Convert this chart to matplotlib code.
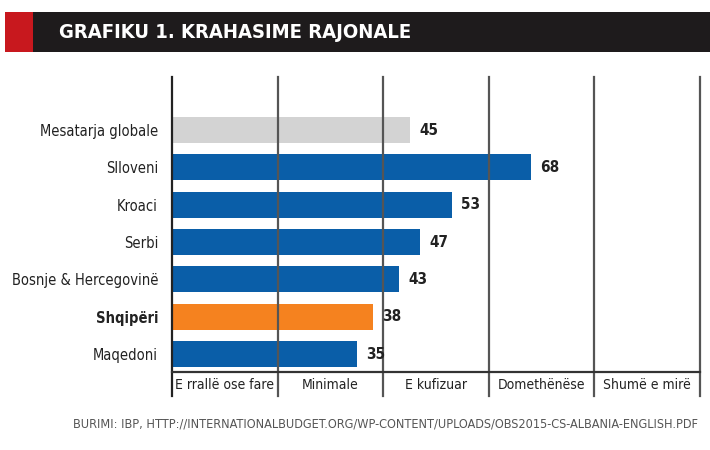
import matplotlib
matplotlib.use("Agg")
import matplotlib.pyplot as plt
from matplotlib.patches import Rectangle

categories = ["Mesatarja globale", "Slloveni", "Kroaci", "Serbi",
              "Bosnje & Hercegovinë", "Shqipëri", "Maqedoni"]
values = [45, 68, 53, 47, 43, 38, 35]
colors = ["#d3d3d3", "#0a5ea8", "#0a5ea8", "#0a5ea8", "#0a5ea8", "#f5821f", "#0a5ea8"]
band_labels = ["E rrallë ose fare", "Minimale", "E kufizuar", "Domethënëse", "Shumë e mirë"]
band_edges = [0, 20, 40, 60, 80, 100]
title = "GRAFIKU 1. KRAHASIME RAJONALE"
source = "BURIMI: IBP, HTTP://INTERNATIONALBUDGET.ORG/WP-CONTENT/UPLOADS/OBS2015-CS-ALBANIA-ENGLISH.PDF"

W, H = 710, 450
fig = plt.figure(figsize=(W / 100, H / 100), dpi=100)
fig.patch.set_facecolor("white")

# title banner
fig.patches.append(Rectangle((5 / W, 1 - 52 / H), 705 / W, 40 / H, transform=fig.transFigure,
                             facecolor="#1e1b1c", edgecolor="none"))
fig.patches.append(Rectangle((5 / W, 1 - 52 / H), 28 / W, 40 / H, transform=fig.transFigure,
                             facecolor="#c8181e", edgecolor="none"))
fig.text(59 / W, 1 - 33 / H, title, color="white", fontsize=14.5, fontweight="bold",
         fontstretch="condensed", family="DejaVu Sans", va="center", ha="left")

left, right, top, bottom = 172, 700, 77, 372
ax = fig.add_axes([left / W, 1 - bottom / H, (right - left) / W, (bottom - top) / H])
ypos = list(range(len(categories)))
ax.barh(ypos, values, height=0.7, color=colors, zorder=1)
ax.set_xlim(band_edges[0], band_edges[-1])
ax.set_ylim(6.48, -1.42)

for s in ax.spines.values():
    s.set_visible(False)
ax.set_xticks([])
ax.set_yticks(ypos)
ax.set_yticklabels(categories, fontsize=10.5, fontstretch="condensed", color="#222222")
for lbl in ax.get_yticklabels():
    if lbl.get_text() == "Shqipëri":
        lbl.set_fontweight("bold")
ax.tick_params(axis="y", length=0, pad=10)

# vertical grid / divider lines extending below
for i, e in enumerate(band_edges):
    ax.plot([e, e], [1.0, -0.08], transform=ax.get_xaxis_transform(), clip_on=False,
            color="#222222" if i == 0 else "#555555", lw=1.6, zorder=2)
ax.plot([0, 100], [0, 0], transform=ax.get_xaxis_transform(), clip_on=False,
        color="#333333", lw=1.6, zorder=2)

for a, b, t in zip(band_edges[:-1], band_edges[1:], band_labels):
    ax.text((a + b) / 2, -0.045, t, transform=ax.get_xaxis_transform(), ha="center", va="center",
            fontsize=10, fontstretch="condensed", color="#222222")

for y, v in zip(ypos, values):
    ax.text(v + 1.8, y, str(v), va="center", ha="left", fontsize=11, fontweight="bold",
            fontstretch="condensed", color="#222222")

fig.text(385 / W, 1 - 424 / H, source, ha="center", va="center", fontsize=9.1,
         fontstretch="condensed", color="#555555")

fig.savefig("out.png", dpi=100, facecolor="white")
